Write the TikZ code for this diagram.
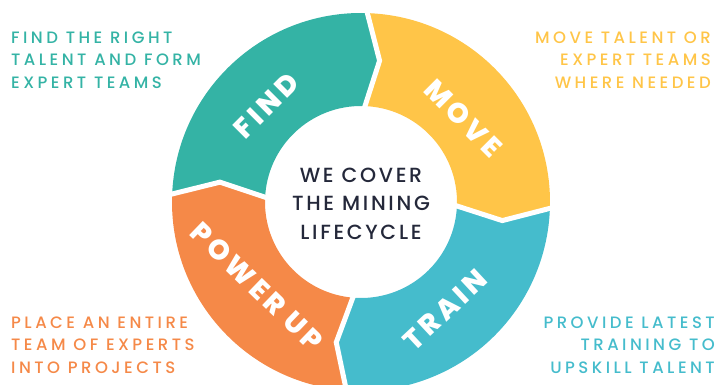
\documentclass[tikz,border=0pt]{standalone}
\usepackage{fontspec}
\setmainfont{Poppins}
\newfontfamily\sidefont{Poppins}[UprightFont=* Medium, LetterSpace=21]
\newfontfamily\midfont{Poppins}[UprightFont=* Medium, LetterSpace=13]
\newfontfamily\ringfont{Poppins}[UprightFont=* ExtraBold, LetterSpace=14]
\usetikzlibrary{calc}
\definecolor{findcol}{RGB}{52,179,165}
\definecolor{movecol}{RGB}{255,197,72}
\definecolor{traincol}{RGB}{69,188,204}
\definecolor{powercol}{RGB}{245,137,72}
\definecolor{midcol}{RGB}{36,40,58}
\def\Rout{189}
\def\Rin{96}
\def\Rmid{142.5}
\def\ringpart[#1](#2:#3){\fill[#1] ($(C)+(#2:\Rout)$) arc (#2:#3:\Rout) -- ($(C)+(#3-6:\Rmid)$) -- ($(C)+(#3:\Rin)$) arc (#3:#2:\Rin) -- ($(C)+(#2-6:\Rmid)$) -- cycle;}
\def\ringgap(#1){\draw[white, line width=5pt, line join=miter] ($(C)+(#1:\Rout+5)$) -- ($(C)+(#1-6:\Rmid)$) -- ($(C)+(#1:\Rin-5)$);}

\begin{document}
\begin{tikzpicture}[x=1pt, y=1pt,
		ringlabel/.style={text=white, inner sep=0pt, font=\ringfont\fontsize{28}{28}\selectfont},
		sidetext/.style={font=\sidefont\fontsize{16.5}{22.5}\selectfont, inner sep=0pt}]
		%%%%% START %%%%%
		\useasboundingbox (0,0) rectangle (721,385);
		\clip (0,0) rectangle (721,385);
		\coordinate (C) at (361,183);
		
		\ringpart[findcol](178:88.5)
		\ringpart[movecol](88.5:-1.5)
		\ringpart[traincol](-1.5:-94)
		\ringpart[powercol](266:178)
		
		\ringgap(88.5)
		\ringgap(-1.5)
		\ringgap(266)
		\ringgap(178)
		
		\node[ringlabel, rotate=45] (find) at ($(C)+(134.5:135)$) {FIND};
		\node[ringlabel, rotate=-45] (move) at ($(C)+(39.2:132)$) {MOVE};
		\node[ringlabel, rotate=43] (train) at ($(C)+(-52:137)$) {TRAIN};
		\node[ringlabel, rotate=-44] (power) at ($(C)+(219:134)$) {POWER UP};
		
		\node[align=center, text=midcol, inner sep=0pt, font=\midfont\fontsize{20.5}{28.5}\selectfont] (mid) at (361,181.3) {WE COVER\\THE MINING\\LIFECYCLE};
		
		\node[sidetext, text=findcol, align=left, anchor=west] (findtxt) at (11,325) {FIND THE RIGHT\\TALENT AND FORM\\EXPERT TEAMS};
		\node[sidetext, text=movecol, align=right, anchor=east] (movetxt) at (711,325) {MOVE TALENT OR\\EXPERT TEAMS\\WHERE NEEDED};
		\node[sidetext, text=powercol, align=left, anchor=west] (powertxt) at (11,40) {PLACE AN ENTIRE\\TEAM OF EXPERTS\\INTO PROJECTS};
		\node[sidetext, text=traincol, align=right, anchor=east] (traintxt) at (715,40) {PROVIDE LATEST\\TRAINING TO\\UPSKILL TALENT};
		%%%%% END %%%%%
\end{tikzpicture}
\end{document}
